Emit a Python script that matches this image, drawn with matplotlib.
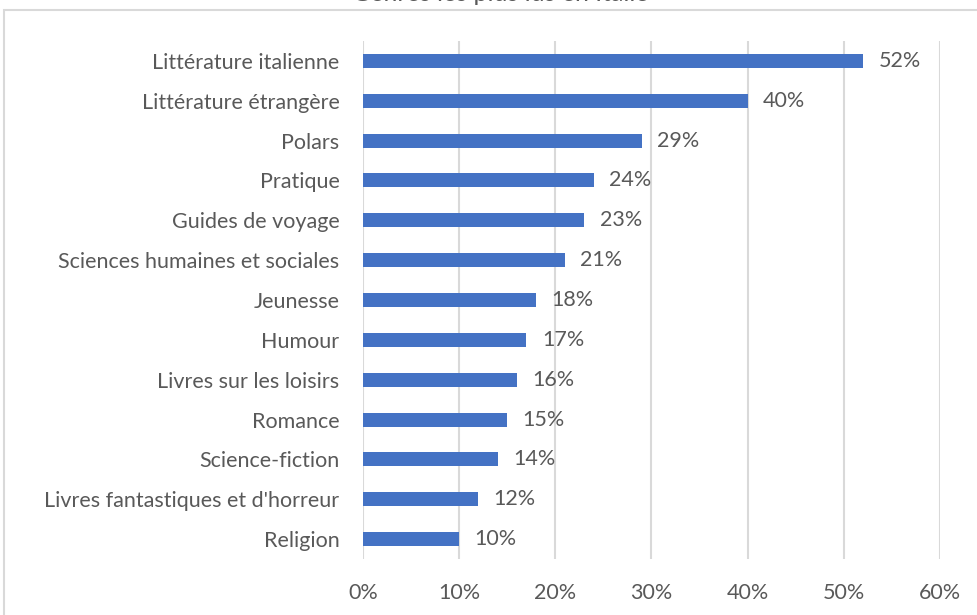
import matplotlib.pyplot as plt
import matplotlib.patches as mpatches

# Data (top to bottom as shown)
genres = ["Littérature italienne", "Littérature étrangère", "Polars", "Pratique",
          "Guides de voyage", "Sciences humaines et sociales", "Jeunesse", "Humour",
          "Livres sur les loisirs", "Romance", "Science-fiction",
          "Livres fantastiques et d'horreur", "Religion"]
values = [52, 40, 29, 24, 23, 21, 18, 17, 16, 15, 14, 12, 10]
ticks = [0, 10, 20, 30, 40, 50, 60]

plt.rcParams['font.family'] = ['Lato', 'DejaVu Sans']
txt = '#595959'
fs = 15.5

fig = plt.figure(figsize=(9.78, 6.15), dpi=100)
ax = fig.add_axes([363/978, 1 - 559/615, 577/978, 518/615])

# Chart area border (partly outside the picture)
fig.patches.append(mpatches.Rectangle((4/978, -0.1), 1.2, 1 - 10/615 + 0.1,
                                      transform=fig.transFigure, fill=False,
                                      edgecolor='#d9d9d9', lw=1.5))

# Title, cut off at the top
fig.text(0.512, 1 - 1/615, "Genres les plus lus en Italie", ha='center',
         va='baseline', fontsize=18, color=txt)

y = list(range(len(genres)))
ax.barh(y, values, height=0.35, color='#4472C4', zorder=3)
for yi, v in zip(y, values):
    ax.text(v + 1.6, yi, f"{v}%", va='center', ha='left', fontsize=fs, color=txt)

ax.set_xlim(0, 60)
ax.set_ylim(len(genres) - 0.5, -0.5)
ax.set_xticks(ticks)
ax.set_xticklabels([f"{t}%" for t in ticks], fontsize=fs, color=txt)
ax.set_yticks(y)
ax.set_yticklabels(genres, fontsize=fs, color=txt)
ax.tick_params(length=0)
ax.tick_params(axis='x', pad=17)
ax.tick_params(axis='y', pad=17)
ax.grid(axis='x', color='#d9d9d9', lw=1.5, zorder=0)
for s in ax.spines.values():
    s.set_visible(False)

fig.savefig("out.png", dpi=100)
